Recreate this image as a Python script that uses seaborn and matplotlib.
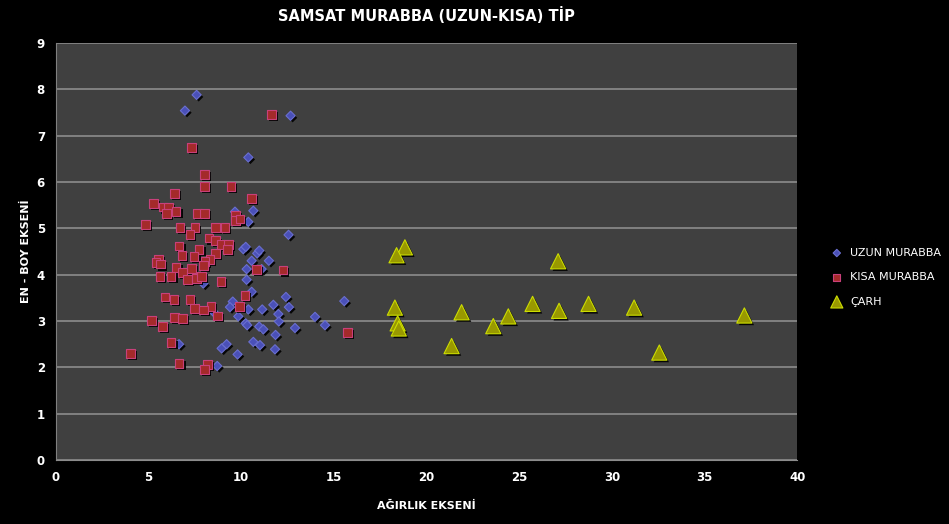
import pandas as pd
import seaborn as sns
import matplotlib.pyplot as plt
import matplotlib.patheffects as pe

# UZUN MURABBA (blue diamonds)
uzun_x = [7.59, 6.96, 12.66, 10.38, 9.66, 10.65, 10.38, 12.55, 10.11, 10.24, 10.86, 10.97,
          10.56, 11.49, 10.29, 11.10, 10.29, 7.95, 10.56, 12.41, 15.56, 9.54, 9.39, 10.38,
          11.13, 11.73, 12.57, 12.00, 8.49, 9.84, 10.24, 10.32, 10.97, 11.19, 12.03, 12.90,
          13.98, 14.52, 11.85, 10.65, 11.01, 11.82, 8.94, 9.21, 9.80, 6.64, 8.70]
uzun_y = [7.88, 7.54, 7.43, 6.53, 5.36, 5.38, 5.14, 4.86, 4.55, 4.60, 4.46, 4.52,
          4.30, 4.30, 4.12, 4.12, 3.89, 3.81, 3.63, 3.52, 3.43, 3.42, 3.30, 3.25,
          3.25, 3.35, 3.30, 3.15, 3.20, 3.10, 2.95, 2.91, 2.88, 2.82, 2.99, 2.85,
          3.09, 2.91, 2.70, 2.55, 2.48, 2.39, 2.41, 2.50, 2.28, 2.50, 2.03]

# KISA MURABBA (red squares)
kisa_x = [11.64, 7.32, 8.00, 8.00, 9.44, 6.39, 10.54, 5.25, 5.79, 6.06, 5.97, 6.48,
          7.65, 8.00, 9.70, 9.70, 9.93, 4.84, 6.69, 7.50, 8.62, 9.12, 7.23, 8.26,
          8.62, 6.64, 8.90, 9.30, 7.72, 9.25, 6.80, 8.62, 7.45, 5.52, 5.40, 5.65,
          8.31, 8.04, 6.48, 7.32, 7.95, 6.82, 5.61, 6.21, 7.10, 7.59, 7.86, 8.90,
          10.81, 12.25, 10.20, 5.88, 6.37, 7.23, 8.36, 9.89, 7.46, 7.95, 8.72, 6.39,
          6.84, 5.16, 5.74, 6.21, 4.03, 6.64, 8.19, 8.00, 15.74]
kisa_y = [7.46, 6.74, 6.16, 5.91, 5.91, 5.75, 5.64, 5.53, 5.46, 5.46, 5.32, 5.37,
          5.32, 5.32, 5.28, 5.17, 5.20, 5.09, 5.01, 5.01, 5.01, 5.01, 4.86, 4.79,
          4.73, 4.62, 4.65, 4.65, 4.54, 4.54, 4.42, 4.46, 4.39, 4.33, 4.26, 4.23,
          4.33, 4.28, 4.16, 4.13, 4.19, 4.05, 3.96, 3.96, 3.90, 3.92, 3.96, 3.85,
          4.12, 4.10, 3.55, 3.52, 3.47, 3.47, 3.31, 3.32, 3.27, 3.24, 3.11, 3.08,
          3.05, 3.02, 2.89, 2.53, 2.30, 2.09, 2.07, 1.96, 2.75]

# ÇARH (green triangles)
carh_x = [18.83, 18.38, 27.10, 18.29, 18.44, 18.50, 21.89, 21.35, 23.60, 24.41,
          25.72, 27.15, 28.74, 31.20, 37.15, 32.56]
carh_y = [4.59, 4.42, 4.29, 3.29, 2.95, 2.84, 3.19, 2.46, 2.89, 3.10,
          3.37, 3.22, 3.37, 3.29, 3.12, 2.32]

df = pd.concat([
    pd.DataFrame({"x": uzun_x, "y": uzun_y, "tip": "UZUN MURABBA"}),
    pd.DataFrame({"x": kisa_x, "y": kisa_y, "tip": "KISA MURABBA"}),
    pd.DataFrame({"x": carh_x, "y": carh_y, "tip": "ÇARH"}),
])

sns.set_style("dark")
plt.rcParams['font.family'] = ['DejaVu Sans']

fig = plt.figure(figsize=(9.49, 5.24), dpi=100, facecolor="black")
ax = fig.add_axes([0.059, 0.122, 0.781, 0.796])
ax.set_facecolor("#404040")

shadow = [pe.SimplePatchShadow(offset=(1.5, -1.5), shadow_rgbFace="black", alpha=0.9), pe.Normal()]

styles = {
    "UZUN MURABBA": dict(marker="D", s=22, color="#4a50b8", edgecolor="#6a6fd0"),
    "KISA MURABBA": dict(marker="s", s=40, color="#a42a2a", edgecolor="#c8407a"),
    "ÇARH": dict(marker="^", s=120, color="#999900", edgecolor="#ccdd00"),
}
for name, st in styles.items():
    sub = df[df["tip"] == name]
    sns.scatterplot(data=sub, x="x", y="y", ax=ax, label=name,
                    marker=st["marker"], s=st["s"], color=st["color"],
                    edgecolor=st["edgecolor"], linewidth=0.8, zorder=3)
for coll in ax.collections:
    coll.set_path_effects(shadow)

ax.set_xlim(0, 40)
ax.set_ylim(0, 9)
ax.set_xticks(range(0, 41, 5))
ax.set_yticks(range(0, 10))
ax.yaxis.grid(True, color="#8c8c8c", linewidth=1.2)
ax.xaxis.grid(False)
for side in ["top", "right"]:
    ax.spines[side].set_visible(False)
ax.spines["left"].set_color("#808080")
ax.spines["bottom"].set_color("#8c8c8c")
ax.tick_params(colors="white", labelsize=8.5, length=0, pad=8)
for lab in ax.get_xticklabels() + ax.get_yticklabels():
    lab.set_fontweight("bold")

ax.set_title("SAMSAT MURABBA (UZUN-KISA) TİP", color="white", fontsize=10.5,
             fontweight="bold", pad=16)
ax.set_xlabel("AĞIRLIK EKSENİ", color="white", fontsize=8, fontweight="bold", labelpad=12)
ax.set_ylabel("EN - BOY EKSENİ", color="white", fontsize=8, fontweight="bold", labelpad=4)

leg = ax.legend(loc="center left", bbox_to_anchor=(1.025, 0.438), frameon=False,
                fontsize=8, labelspacing=1.3, handletextpad=0.2, markerscale=0.8)
for t in leg.get_texts():
    t.set_color("white")

fig.savefig("out.png", dpi=100, facecolor="black")
